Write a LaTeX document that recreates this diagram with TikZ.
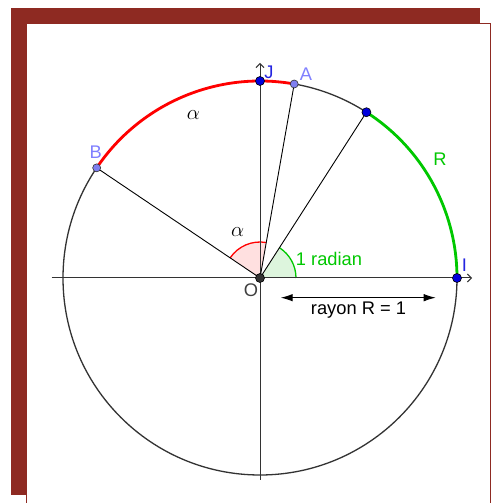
\documentclass[tikz,border=0pt]{standalone}
\usepackage{fontspec}
\setmainfont{Liberation Sans}
\usetikzlibrary{arrows.meta,calc}
\definecolor{frame}{HTML}{8E2A22}
\definecolor{arcred}{HTML}{FF0000}
\definecolor{arcgreen}{HTML}{00C800}
\definecolor{fillred}{HTML}{FFE0E0}
\definecolor{fillgreen}{HTML}{DDF5DD}
\definecolor{ptblue}{HTML}{0000DD}
\definecolor{ptlight}{HTML}{7F7FF0}
\definecolor{lblblue}{HTML}{2424E0}
\definecolor{lbllight}{HTML}{8080FF}
\definecolor{circgray}{HTML}{333333}
\tikzset{
  lbl/.style={font=\fontsize{18.3}{20}\selectfont, inner sep=0pt},
  greek/.style={font=\fontsize{22}{24}\selectfont, inner sep=0pt},
  axis/.style={draw=circgray, line width=1pt},
  radius line/.style={draw=black, line width=0.9pt},
  dotdark/.style={circle, fill=ptblue, draw=black, line width=0.6pt, minimum size=9pt, inner sep=0pt},
  dotlight/.style={circle, fill=ptlight, draw=black!80, line width=0.6pt, minimum size=8pt, inner sep=0pt},
  dotorigin/.style={circle, fill=circgray, draw=black, line width=0.6pt, minimum size=9pt, inner sep=0pt},
}
\begin{document}
\begin{tikzpicture}[x=1pt,y=1pt]
\useasboundingbox (0,0) rectangle (491,503);
\begin{scope}
\clip (0,0) rectangle (491,503);
% frame
\fill[frame] (11,8) rectangle (480,495);
\filldraw[fill=white, draw=frame, line width=1pt] (26.5,-5) rectangle (490.5,479.5);
\end{scope}
% key coordinates
\coordinate (O) at (260,225);
\coordinate (I) at ($(O)+(0:197pt)$);
\coordinate (J) at ($(O)+(90:197pt)$);
\coordinate (P) at ($(O)+(57.3:197pt)$);
\coordinate (A) at ($(O)+(80:197pt)$);
\coordinate (B) at ($(O)+(146:197pt)$);
\coordinate (xl) at (51.7,225);
\coordinate (xr) at (472,225);
\coordinate (yb) at (260,23);
\coordinate (yt) at (260,440);
% sectors
\fill[fillgreen] (O) -- ++(0:36pt) arc[start angle=0, end angle=57.3, radius=36pt] -- cycle;
\fill[fillred] (O) -- ++(80:36pt) arc[start angle=80, end angle=146, radius=36pt] -- cycle;
\draw[arcgreen, line width=1.3pt] ($(O)+(0:36pt)$) arc[start angle=0, end angle=57.3, radius=36pt];
\draw[arcred, line width=1.3pt] ($(O)+(80:36pt)$) arc[start angle=80, end angle=146, radius=36pt];
% circle
\draw[circgray, line width=1.3pt] (O) circle[radius=197pt];
% axes
\draw[axis, -{Straight Barb[length=4pt, width=8pt]}] (xl) -- (xr);
\draw[axis, -{Straight Barb[length=4pt, width=8pt]}] (yb) -- (yt);
% radii
\draw[radius line] (O) -- (A);
\draw[radius line] (O) -- (B);
\draw[radius line] (O) -- (P);
% coloured arcs
\draw[arcred, line width=2.8pt] (A) arc[start angle=80, end angle=146, radius=197pt];
\draw[arcgreen, line width=2.8pt] (I) arc[start angle=0, end angle=57.3, radius=197pt];
% dimension arrow
\coordinate (d1) at (280.7,205.3);
\coordinate (d2) at (435.7,205.3);
\draw[line width=1pt, {Latex[length=12pt, width=7.5pt]}-{Latex[length=12pt, width=7.5pt]}] (d1) -- (d2);
\node[lbl] (rayon) at (358.5,193) {rayon R = 1};
% points
\node[dotorigin] (Odot) at (O) {};
\node[dotdark] (Idot) at (I) {};
\node[dotdark] (Jdot) at (J) {};
\node[dotdark] (Pdot) at (P) {};
\node[dotlight] (Adot) at (A) {};
\node[dotlight] (Bdot) at (B) {};
% labels
\node[lbl, text=lblblue] (Jl) at (269,430.5) {J};
\node[lbl, text=lbllight] (Al) at (306,429) {A};
\node[lbl, text=lbllight] (Bl) at (95.7,350.5) {B};
\node[lbl, text=lblblue] (Il) at (464.3,238) {I};
\node[lbl, text=black!75] (Ol) at (251,213) {O};
\node[lbl, text=arcgreen] (Rl) at (440,343.7) {R};
\node[lbl, text=arcgreen] (radl) at (329,244) {1 radian};
\node[greek] (al1) at (237.7,271) {$\alpha$};
\node[greek] (al2) at (193.3,388) {$\alpha$};
\end{tikzpicture}
\end{document}
